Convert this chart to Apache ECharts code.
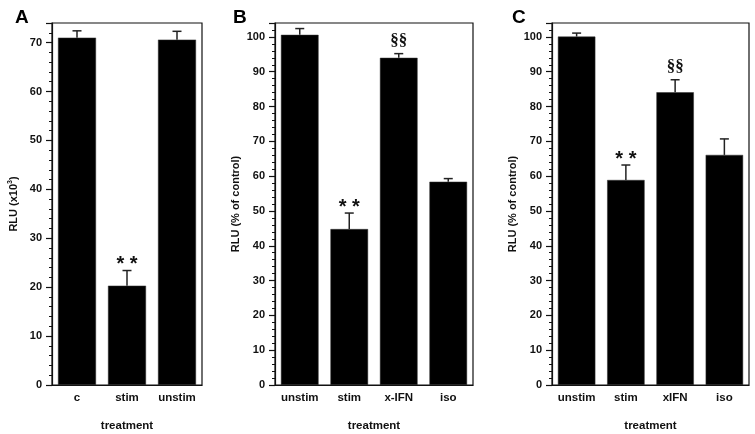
<!DOCTYPE html>
<html>
<head>
<meta charset="utf-8">
<script src="https://cdn.jsdelivr.net/npm/echarts@6/dist/echarts.min.js"></script>
<style>html,body{margin:0;padding:0;background:#fff}#c{width:755px;height:434px}</style>
</head>
<body>
<div id="c"></div>
<script>
// ---- data ----
const catsA = ['c', 'stim', 'unstim'];
const meanA = [71.0, 20.3, 70.6];
const errA  = [72.4, 23.4, 72.3];
const annotA = ['', '**', ''];

const catsB = ['unstim', 'stim', 'x-IFN', 'iso'];
const meanB = [100.6, 44.8, 94.0, 58.4];
const errB  = [102.4, 49.4, 95.2, 59.3];
const annotB = ['', '**', '§§', ''];

const catsC = ['unstim', 'stim', 'xIFN', 'iso'];
const meanC = [100.1, 58.9, 84.1, 66.1];
const errC  = [101.1, 63.2, 87.7, 70.7];
const annotC = ['', '**', '§§', ''];

const yMaxA = 74, yMaxB = 104, yMaxC = 104;
const yMajor = 10, yMinor = 2;
const panelLetters = ['A', 'B', 'C'];
const yNames = ['RLU (x10{sup|3})', 'RLU (% of control)', 'RLU (% of control)'];
const xName = 'treatment';

// ---- layout ----
const grids = [
  {left: 52, top: 23, width: 150, height: 362},
  {left: 275, top: 23, width: 198, height: 362},
  {left: 552, top: 23, width: 197, height: 362}
];
const panels = [
  {cats: catsA, mean: meanA, err: errA, annot: annotA, max: yMaxA, gap: 32},
  {cats: catsB, mean: meanB, err: errB, annot: annotB, max: yMaxB, gap: 34},
  {cats: catsC, mean: meanC, err: errC, annot: annotC, max: yMaxC, gap: 34}
];
const letterX = [10, 228, 507];
const FONT = 'Liberation Sans, Arial, sans-serif';

const option = {
  animation: false,
  backgroundColor: '#fff',
  title: panelLetters.map((t, i) => ({
    text: t, left: letterX[i], top: 3,
    textStyle: {fontFamily: FONT, fontWeight: 'bold', fontSize: 19, color: '#000'}
  })),
  grid: [],
  xAxis: [],
  yAxis: [],
  series: []
};

panels.forEach((p, i) => {
  option.grid.push(Object.assign({show: true, borderColor: '#111', borderWidth: 1.2, backgroundColor: 'transparent', containLabel: false, outerBoundsMode: 'none'}, grids[i]));
  option.grid.push(Object.assign({show: false, containLabel: false, outerBoundsMode: 'none'}, grids[i]));
  const gMain = i * 2, gOver = i * 2 + 1;
  option.xAxis.push({
    type: 'category', gridIndex: gMain, data: p.cats,
    axisLine: {show: true, lineStyle: {color: '#111', width: 1.2}},
    axisTick: {show: false},
    axisLabel: {color: '#111', fontFamily: FONT, fontWeight: 'bold', fontSize: 11.5, margin: 7},
    name: xName, nameLocation: 'middle', nameGap: 35,
    nameTextStyle: {color: '#111', fontFamily: FONT, fontWeight: 'bold', fontSize: 11.5}
  });
  option.xAxis.push({type: 'category', gridIndex: gOver, data: p.cats, show: false});
  option.yAxis.push({
    type: 'value', gridIndex: gMain, min: 0, max: p.max, interval: yMajor,
    axisLine: {show: true, lineStyle: {color: '#111', width: 1.2}},
    axisTick: {show: true, inside: false, length: 6, lineStyle: {color: '#111', width: 1.2}},
    axisLabel: {color: '#111', fontFamily: FONT, fontWeight: 'bold', fontSize: 11, margin: 10,
      formatter: v => (v % yMajor === 0 ? String(v) : '')},
    splitLine: {show: false},
    name: yNames[i], nameLocation: 'middle', nameGap: p.gap, nameRotate: 90,
    nameTextStyle: {color: '#111', fontFamily: FONT, fontWeight: 'bold', fontSize: 11,
      rich: {sup: {fontSize: 7, fontWeight: 'bold', fontFamily: FONT, color: '#111', verticalAlign: 'top', padding: [0, 0, 6, 0]}}}
  });
  option.yAxis.push({
    type: 'value', gridIndex: gOver, min: 0, max: p.max, interval: yMinor,
    axisLine: {show: false},
    axisTick: {show: true, inside: false, length: 3, lineStyle: {color: '#111', width: 1}},
    axisLabel: {show: false}, splitLine: {show: false}
  });
  const ax = i * 2;
  option.series.push({
    type: 'bar', xAxisIndex: ax, yAxisIndex: ax, data: p.mean, barWidth: '76%',
    itemStyle: {color: '#000', borderColor: '#333', borderWidth: 0.5}, z: 2
  });
  const annot = p.annot;
  option.series.push({
    type: 'custom', xAxisIndex: ax, yAxisIndex: ax, z: 5,
    data: p.cats.map((c, k) => [k, p.mean[k], p.err[k]]),
    renderItem: (params, api) => {
      const idx = api.value(0);
      const base = api.coord([idx, api.value(1)]);
      const top = api.coord([idx, api.value(2)]);
      const cap = 4.5;
      const children = [
        {type: 'line', shape: {x1: base[0], y1: base[1], x2: top[0], y2: top[1]}, style: {stroke: '#222', lineWidth: 1.5}},
        {type: 'line', shape: {x1: top[0] - cap, y1: top[1], x2: top[0] + cap, y2: top[1]}, style: {stroke: '#222', lineWidth: 1.5}}
      ];
      const a = annot[params.dataIndex];
      if (a) {
        const isStar = a.indexOf('*') >= 0;
        children.push({
          type: 'text',
          style: {
            text: isStar ? '* *' : a,
            x: top[0], y: isStar ? top[1] + 4 : top[1] - 5,
            align: 'center', verticalAlign: 'bottom',
            fill: '#111',
            font: isStar ? 'bold 20px Liberation Sans, Arial, sans-serif' : 'bold 17px Liberation Serif, Times New Roman, serif'
          }
        });
      }
      return {type: 'group', children};
    }
  });
});

const chart = echarts.init(document.getElementById('c'), null, {renderer: 'canvas'});
chart.setOption(option);
</script>
</body>
</html>
